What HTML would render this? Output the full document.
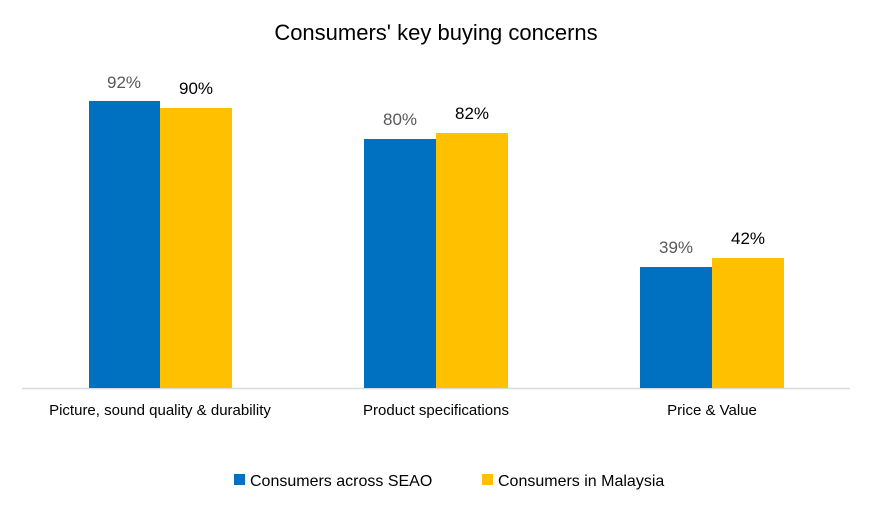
<!DOCTYPE html>
<html><head><style>
body{margin:0;background:#fff;}
svg text{font-family:"Liberation Sans",sans-serif;}
</style></head><body>
<svg width="872" height="500" xmlns="http://www.w3.org/2000/svg">
<rect width="872" height="500" fill="#fff"/>
<text x="436" y="40" font-size="22" text-anchor="middle" fill="#000">Consumers' key buying concerns</text>
<line x1="22" y1="388.5" x2="850" y2="388.5" stroke="#d9d9d9" stroke-width="1.5"/>
<rect x="89" y="101" width="71" height="287" fill="#0070C0"/>
<rect x="160" y="108" width="72" height="280" fill="#FFC000"/>
<rect x="364" y="139" width="72" height="249" fill="#0070C0"/>
<rect x="436" y="133" width="72" height="255" fill="#FFC000"/>
<rect x="640" y="267" width="72" height="121" fill="#0070C0"/>
<rect x="712" y="258" width="72" height="130" fill="#FFC000"/>
<g font-size="17" text-anchor="middle">
<text x="124" y="88" fill="#595959">92%</text>
<text x="196" y="94" fill="#000">90%</text>
<text x="400" y="125" fill="#595959">80%</text>
<text x="472" y="119" fill="#000">82%</text>
<text x="676" y="253" fill="#595959">39%</text>
<text x="748" y="244" fill="#000">42%</text>
</g>
<g font-size="15" text-anchor="middle" fill="#000">
<text x="160" y="415">Picture, sound quality &amp; durability</text>
<text x="436" y="415">Product specifications</text>
<text x="712" y="415">Price &amp; Value</text>
</g>
<rect x="234" y="474" width="11" height="11" fill="#0070C0"/>
<text x="250" y="486" font-size="16" fill="#000">Consumers across SEAO</text>
<rect x="482" y="474" width="11" height="11" fill="#FFC000"/>
<text x="498" y="486" font-size="16" fill="#000">Consumers in Malaysia</text>
</svg>
</body></html>
